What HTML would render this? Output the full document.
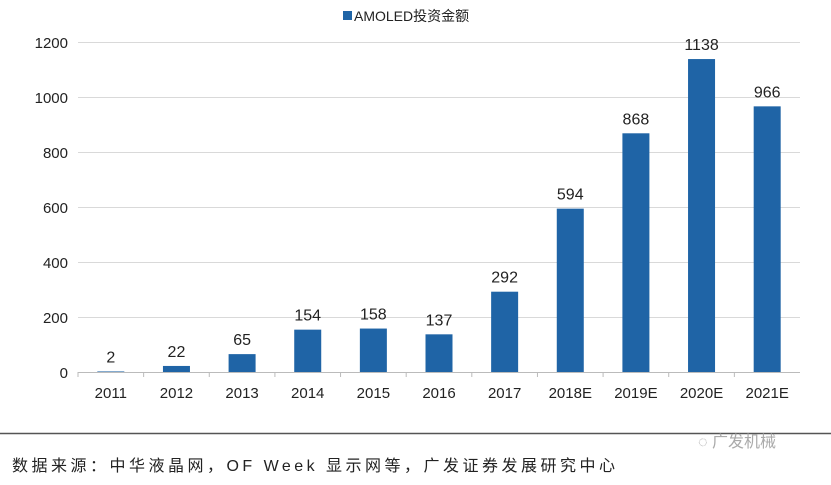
<!DOCTYPE html>
<html><head><meta charset="utf-8"><style>
body{margin:0;background:#fff;width:831px;height:480px;overflow:hidden;font-family:"Liberation Sans","Noto Sans CJK SC",sans-serif;}
</style></head><body>
<svg width="831" height="480" xmlns="http://www.w3.org/2000/svg" font-family="Liberation Sans, Noto Sans CJK SC, sans-serif">
<rect x="343" y="11" width="9" height="9" fill="#1f64a6"/>
<text x="354" y="21" font-size="14" fill="#222">AMOLED投资金额</text>
<g stroke="#d9d9d9" stroke-width="1">
<line x1="78" x2="800" y1="42.5" y2="42.5"/><line x1="78" x2="800" y1="97.5" y2="97.5"/>
<line x1="78" x2="800" y1="152.5" y2="152.5"/><line x1="78" x2="800" y1="207.5" y2="207.5"/>
<line x1="78" x2="800" y1="262.5" y2="262.5"/><line x1="78" x2="800" y1="317.5" y2="317.5"/>
</g>
<line x1="78" x2="800" y1="372.5" y2="372.5" stroke="#bbb"/>
<g font-size="15" fill="#222" text-anchor="end">
<text x="68" y="48">1200</text><text x="68" y="103">1000</text><text x="68" y="158">800</text>
<text x="68" y="213">600</text><text x="68" y="268">400</text><text x="68" y="323">200</text><text x="68" y="378">0</text>
</g>
<g id="bars" fill="#1f64a6"></g>
<g id="lbl" font-size="15" fill="#222" text-anchor="middle"></g>
<line x1="0" x2="831" y1="433.5" y2="433.5" stroke="#555" stroke-width="1.5"/>
<text x="698" y="447" font-size="16" fill="#aaa">◌ 广发机械</text>
<text x="12" y="471" font-size="16" fill="#222" textLength="603" lengthAdjust="spacing">数据来源：中华液晶网，OF Week 显示网等，广发证券发展研究中心</text>
<script>
var d=[["2011",2],["2012",22],["2013",65],["2014",154],["2015",158],["2016",137],["2017",292],["2018E",594],["2019E",868],["2020E",1138],["2021E",966]];
var b=document.getElementById("bars"),l=document.getElementById("lbl"),ns="http://www.w3.org/2000/svg",cw=(800-78)/11;
d.forEach(function(e,i){var cx=78+cw*(i+0.5),h=e[1]*0.275,y=372-h;
var r=document.createElementNS(ns,"rect");r.setAttribute("x",cx-13.5);r.setAttribute("y",y);r.setAttribute("width",27);r.setAttribute("height",h);b.appendChild(r);
var t=document.createElementNS(ns,"text");t.setAttribute("x",cx);t.setAttribute("y",y-9);t.setAttribute("font-size","16");t.textContent=e[1];l.appendChild(t);
var t2=document.createElementNS(ns,"text");t2.setAttribute("x",cx);t2.setAttribute("y",398);t2.textContent=e[0];l.appendChild(t2);
var k=document.createElementNS(ns,"line");var x=78+cw*i;k.setAttribute("x1",x);k.setAttribute("x2",x);k.setAttribute("y1",372);k.setAttribute("y2",377);k.setAttribute("stroke","#bbb");l.appendChild(k);});
</script>
</svg>
</body></html>
